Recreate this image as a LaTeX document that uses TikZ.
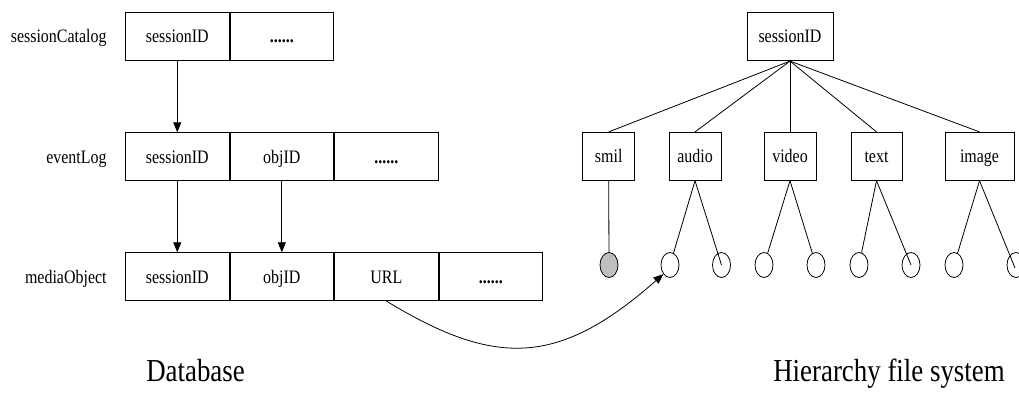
\documentclass[tikz,border=0pt]{standalone}
\usepackage{fontspec}
\setmainfont[FakeStretch=0.84]{Liberation Serif}
\usetikzlibrary{arrows.meta,shapes.geometric}

\begin{document}
\begin{tikzpicture}[x=1pt,y=-1pt,
  every path/.style={line width=0.8pt},
  txt/.style={font=\fontsize{19}{19}\selectfont},
  cell/.style={txt,draw,line width=0.8pt,minimum width=103.75pt,minimum height=48pt,
    inner sep=0pt,anchor=west,text height=12.6pt,text depth=0pt},
  tbox/.style={txt,draw,line width=0.8pt,minimum height=48pt,inner sep=0pt,
    text height=12.6pt,text depth=0pt},
  rowlabel/.style={txt,anchor=east,inner sep=0pt,text height=12.6pt,text depth=0pt},
  leaf/.style={draw,line width=0.8pt,ellipse,minimum width=18pt,minimum height=25pt,inner sep=0pt},
  caption/.style={font=\fontsize{32}{32}\selectfont,anchor=base,inner sep=0pt},
  link/.style={line width=0.8pt,-{Triangle[length=10pt,width=8pt]}},
  edge/.style={line width=0.8pt}
]
\useasboundingbox (0,0) rectangle (1019,409);

% ---------- database tables ----------
\node[rowlabel] (lsc) at (107,36.7) {sessionCatalog};
\node[cell] (sc1) at (125,36.7) {sessionID};
\node[cell] (sc2) at (sc1.east) {\textbf{......}};

\node[rowlabel] (lev) at (107,156.7) {eventLog};
\node[cell] (ev1) at (125,156.7) {sessionID};
\node[cell] (ev2) at (ev1.east) {objID};
\node[cell] (ev3) at (ev2.east) {\textbf{......}};

\node[rowlabel] (lmo) at (107,276.7) {mediaObject};
\node[cell] (mo1) at (125,276.7) {sessionID};
\node[cell] (mo2) at (mo1.east) {objID};
\node[cell] (mo3) at (mo2.east) {URL};
\node[cell] (mo4) at (mo3.east) {\textbf{......}};

\draw[link] (sc1.south) -- (ev1.north);
\draw[link] (ev1.south) -- (mo1.north);
\draw[link] (ev2.south) -- (mo2.north);

% ---------- hierarchy ----------
\node[tbox,minimum width=86pt] (root) at (790,36.7) {sessionID};
\node[tbox,minimum width=52pt] (smil)  at (608.7,156.3) {smil};
\node[tbox,minimum width=52pt] (audio) at (695,156.3) {audio};
\node[tbox,minimum width=52pt] (video) at (790,156.3) {video};
\node[tbox,minimum width=51pt] (text)  at (876.5,156.3) {text};
\node[tbox,minimum width=69pt] (image) at (979.5,156.3) {image};

\foreach \c in {smil,audio,video,text,image}
  \draw[edge] (root.south) -- (\c.north);

\node[leaf,fill=black!25] (s0) at (609,265) {};
\node[leaf] (a1) at (670,265) {};
\node[leaf] (a2) at (721.5,265) {};
\node[leaf] (v1) at (764,265) {};
\node[leaf] (v2) at (816,265) {};
\node[leaf] (t1) at (859,265) {};
\node[leaf] (t2) at (911,265) {};
\node[leaf] (i1) at (954,265) {};
\node[leaf] (i2) at (1016,265) {};

\draw[edge] (smil.south) -- (s0);
\draw[edge] (audio.south) -- (a1);
\draw[edge] (audio.south) -- (a2.center);
\draw[edge] (video.south) -- (v1);
\draw[edge] (video.south) -- (v2);
\draw[edge] (text.south) -- (t1);
\draw[edge] (text.south) -- (t2.center);
\draw[edge] (image.south) -- (i1);
\draw[edge] (image.south) -- ([xshift=-1pt,yshift=-3pt]i2.center);

% URL points into the file hierarchy
\draw[link] (mo3.south) .. controls (495,367) and (558,367) .. (a1.south west);

% ---------- captions ----------
\node[caption] (cdb) at (195.5,381) {Database};
\node[caption] (cfs) at (889,381) {Hierarchy file system};
\end{tikzpicture}
\end{document}
